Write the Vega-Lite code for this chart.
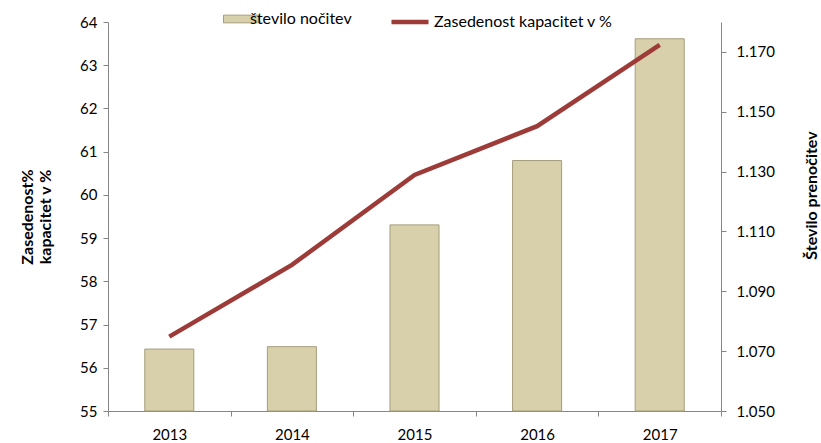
{
  "$schema": "https://vega.github.io/schema/vega-lite/v6.json",
  "width": 613,
  "height": 389,
  "autosize": "none",
  "padding": {"left": 108, "top": 22, "right": 100, "bottom": 32},
  "background": "white",
  "config": {
    "font": "Lato",
    "view": {"stroke": null},
    "axis": {
      "grid": false,
      "domainColor": "#868686",
      "tickColor": "#868686",
      "tickSize": 5,
      "labelFont": "Lato",
      "labelFontSize": 15,
      "labelColor": "#000000",
      "titleColor": "#000000",
      "titleFont": "Lato",
      "titleFontSize": 16,
      "titleFontWeight": "bold"
    },
    "legend": {"labelFont": "Lato", "labelFontSize": 16, "labelColor": "#000000", "padding": 0, "labelLimit": 0}
  },
  "data": {
    "values": [
      {"leto": "2013", "nocitve": 1.0707, "zasedenost": 56.72},
      {"leto": "2014", "nocitve": 1.0715, "zasedenost": 58.38},
      {"leto": "2015", "nocitve": 1.1122, "zasedenost": 60.46},
      {"leto": "2016", "nocitve": 1.1337, "zasedenost": 61.59},
      {"leto": "2017", "nocitve": 1.1744, "zasedenost": 63.47}
    ]
  },
  "encoding": {
    "x": {
      "field": "leto",
      "type": "ordinal",
      "scale": {"paddingInner": 0, "paddingOuter": 0},
      "axis": {"title": null, "labelAngle": 0, "tickBand": "extent", "labelPadding": 11, "domainColor": "#868686"}
    }
  },
  "layer": [
    {
      "mark": {"type": "bar", "width": {"band": 0.4}, "stroke": "#a59d7b", "strokeWidth": 1},
      "encoding": {
        "y": {
          "field": "nocitve",
          "type": "quantitative",
          "scale": {"domain": [1.05, 1.18], "zero": false, "nice": false},
          "axis": {
            "orient": "right",
            "values": [1.05, 1.07, 1.09, 1.11, 1.13, 1.15, 1.17],
            "format": ".3f",
            "labelPadding": 10,
            "title": "Število prenočitev",
            "titleAngle": 270,
            "titleX": 90,
            "titleY": 173,
            "titleAlign": "center",
            "titleBaseline": "middle"
          }
        },
        "y2": {"datum": 1.05},
        "fill": {
          "datum": "število nočitev",
          "scale": {"range": ["#d7d0ab"]},
          "legend": {
            "title": null,
            "orient": "none",
            "legendX": 115,
            "legendY": -21,
            "symbolType": "M-1,-0.22H1V0.22H-1Z",
            "symbolSize": 1225,
            "symbolStrokeColor": "#a59d7b",
            "symbolStrokeWidth": 1,
            "labelOffset": -9
          }
        }
      }
    },
    {
      "mark": {"type": "line", "color": "#9c3b37", "strokeWidth": 4.5},
      "encoding": {
        "y": {
          "field": "zasedenost",
          "type": "quantitative",
          "scale": {"domain": [55, 64], "zero": false, "nice": false},
          "axis": {
            "orient": "left",
            "values": [55, 56, 57, 58, 59, 60, 61, 62, 63, 64],
            "labelPadding": 6,
            "title": ["Zasedenost%", "kapacitet  v %"],
            "titlePadding": 26
          }
        },
        "stroke": {
          "datum": "Zasedenost kapacitet v %",
          "scale": {"range": ["#9c3b37"]},
          "legend": {
            "title": null,
            "orient": "none",
            "legendX": 281,
            "legendY": -21,
            "symbolType": "stroke",
            "symbolSize": 1369,
            "symbolStrokeWidth": 4.5,
            "labelOffset": 3
          }
        }
      }
    }
  ],
  "resolve": {"scale": {"y": "independent", "fill": "independent", "stroke": "independent"}}
}
